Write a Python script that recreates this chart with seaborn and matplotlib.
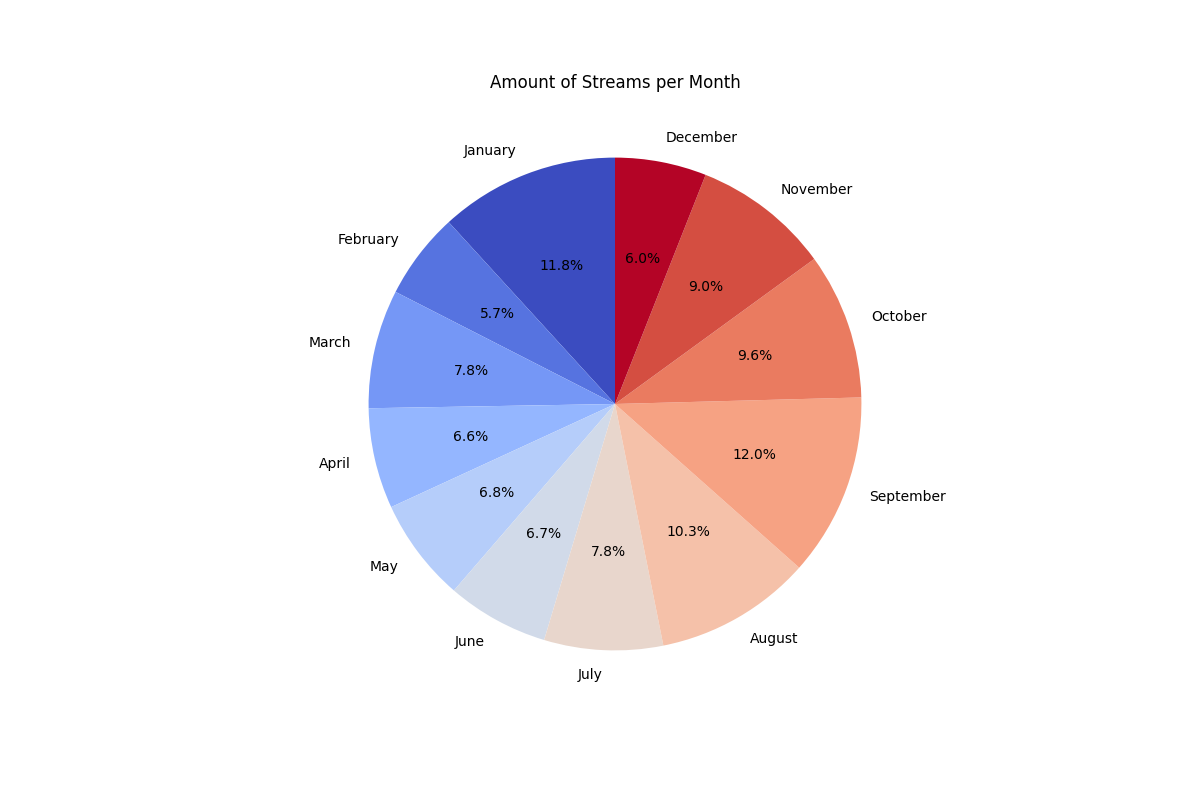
import matplotlib
matplotlib.use("Agg")
import matplotlib.pyplot as plt
import numpy as np
import seaborn as sns

# Share of streams per month (percent)
months = ['January', 'February', 'March', 'April', 'May', 'June',
          'July', 'August', 'September', 'October', 'November', 'December']
shares = [11.8, 5.7, 7.8, 6.6, 6.8, 6.7, 7.8, 10.3, 12.0, 9.6, 9.0, 6.0]

# full coolwarm range, end to end
colors = plt.cm.coolwarm(np.linspace(0, 1, len(months)))

plt.figure(figsize=(12, 8))
plt.pie(shares, labels=months, colors=colors, autopct='%1.1f%%', startangle=90)
plt.title('Amount of Streams per Month')
plt.savefig('out.png', dpi=100)
